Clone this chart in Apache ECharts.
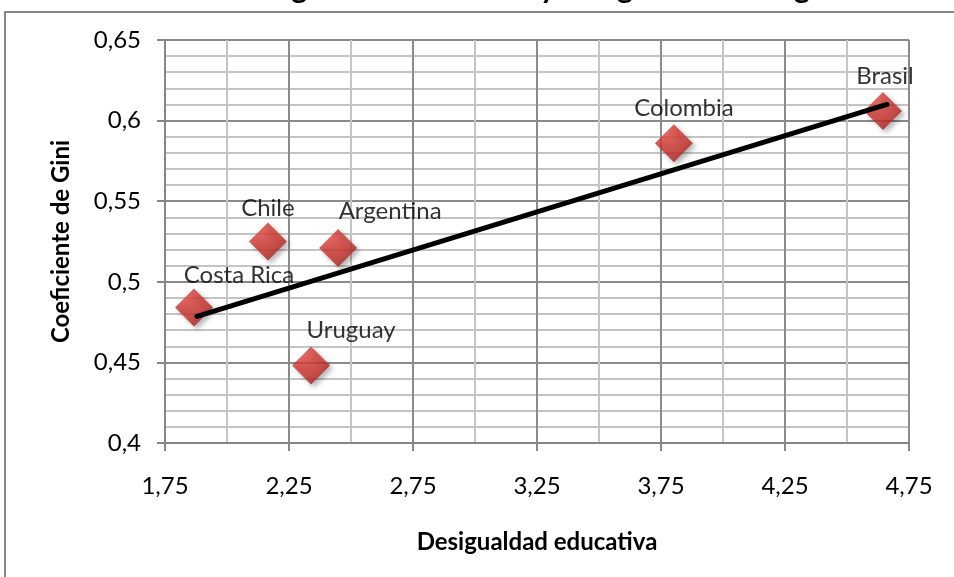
<!DOCTYPE html>
<html>
<head>
<meta charset="utf-8">
<script src="https://cdn.jsdelivr.net/npm/echarts@6/dist/echarts.min.js"></script>
<style>
  html, body { margin: 0; padding: 0; background: #fff; }
  #chart { width: 954px; height: 577px; }
</style>
</head>
<body>
<div id="chart"></div>
<script>
// ---- data ----
const countries = ['Costa Rica', 'Chile', 'Argentina', 'Uruguay', 'Colombia', 'Brasil'];
const educIneq  = [1.867, 2.165, 2.448, 2.339, 3.802, 4.645];
const gini      = [0.484, 0.525, 0.521, 0.448, 0.586, 0.606];
const trendX    = [1.879, 4.661];
const trendY    = [0.4785, 0.610];
const xTickLabels = ['1,75', '2,25', '2,75', '3,25', '3,75', '4,25', '4,75'];
const yTickLabels = ['0,4', '0,45', '0,5', '0,55', '0,6', '0,65'];
const titleText = 'Gráfico 3. Desigualdad educativa y desigualdad de ingresos';
const xName = 'Desigualdad educativa';
const yName = 'Coeficiente de Gini';

// ---- styling (label offsets as in the reference) ----
const labelOffsets = [[45, -32], [0, -33], [52, -37], [40, -35], [10, -35], [2, -35]];
const FONT = 'Lato, "Open Sans", sans-serif';

const chart = echarts.init(document.getElementById('chart'));

const scatterData = countries.map((c, i) => ({
  name: c,
  value: [educIneq[i], gini[i]],
  label: { offset: labelOffsets[i] }
}));

const option = {
  backgroundColor: '#fff',
  animation: false,
  graphic: [
    {
      type: 'rect',
      shape: { x: 5, y: 12, width: 1000, height: 600 },
      style: { fill: 'none', stroke: '#868686', lineWidth: 2 },
      z: -10
    },
    {
      type: 'text',
      x: 488, y: -27,
      style: {
        text: titleText,
        font: 'bold 30px ' + FONT,
        fill: '#000',
        align: 'center',
        verticalAlign: 'top'
      }
    }
  ],
  grid: { left: 165, right: 45, top: 40, bottom: 134, containLabel: false },
  xAxis: {
    type: 'value',
    min: 1.75, max: 4.75, interval: 0.5,
    name: xName,
    nameLocation: 'middle',
    nameGap: 87,
    nameTextStyle: { fontFamily: FONT, fontWeight: 'bold', fontSize: 24, color: '#000' },
    axisLine: { show: true, lineStyle: { color: '#868686', width: 2 } },
    axisTick: { show: true, length: 8, inside: false, lineStyle: { color: '#868686', width: 2 } },
    axisLabel: {
      margin: 31,
      fontFamily: FONT, fontSize: 24, color: '#000',
      formatter: (v, i) => xTickLabels[i] !== undefined ? xTickLabels[i] : ''
    },
    splitLine: { show: true, lineStyle: { color: '#8a8a8a', width: 2 } },
    minorTick: { show: false, splitNumber: 2 },
    minorSplitLine: { show: true, lineStyle: { color: '#c4c4c4', width: 2 } }
  },
  yAxis: {
    type: 'value',
    min: 0.4, max: 0.65, interval: 0.05,
    name: yName,
    nameLocation: 'middle',
    nameGap: 92,
    nameTextStyle: { fontFamily: FONT, fontWeight: 'bold', fontSize: 24, color: '#000' },
    axisLine: { show: true, lineStyle: { color: '#868686', width: 2 } },
    axisTick: { show: true, length: 8, inside: false, lineStyle: { color: '#868686', width: 2 } },
    axisLabel: {
      margin: 24,
      fontFamily: FONT, fontSize: 24, color: '#000',
      formatter: (v, i) => yTickLabels[i] !== undefined ? yTickLabels[i] : ''
    },
    splitLine: { show: true, lineStyle: { color: '#8a8a8a', width: 2 } },
    minorTick: { show: false, splitNumber: 5 },
    minorSplitLine: { show: true, lineStyle: { color: '#c4c4c4', width: 2 } }
  },
  series: [
    {
      type: 'scatter',
      symbol: 'diamond',
      symbolSize: 38,
      z: 3,
      itemStyle: {
        color: {
          type: 'radial', x: 0.4, y: 0.35, r: 0.7,
          colorStops: [
            { offset: 0, color: '#e2453f' },
            { offset: 0.6, color: '#c8302b' },
            { offset: 1, color: '#9a1f1c' }
          ]
        },
        shadowBlur: 5,
        shadowOffsetX: 3,
        shadowOffsetY: 3,
        shadowColor: 'rgba(0,0,0,0.35)'
      },
      label: {
        show: true,
        position: 'inside',
        formatter: p => p.name,
        fontFamily: FONT, fontSize: 24, color: '#000'
      },
      data: scatterData
    },
    {
      type: 'line',
      z: 4,
      symbol: 'none',
      silent: true,
      lineStyle: { color: '#000', width: 5, cap: 'round' },
      data: trendX.map((x, i) => [x, trendY[i]])
    }
  ]
};

chart.setOption(option);
</script>
</body>
</html>
